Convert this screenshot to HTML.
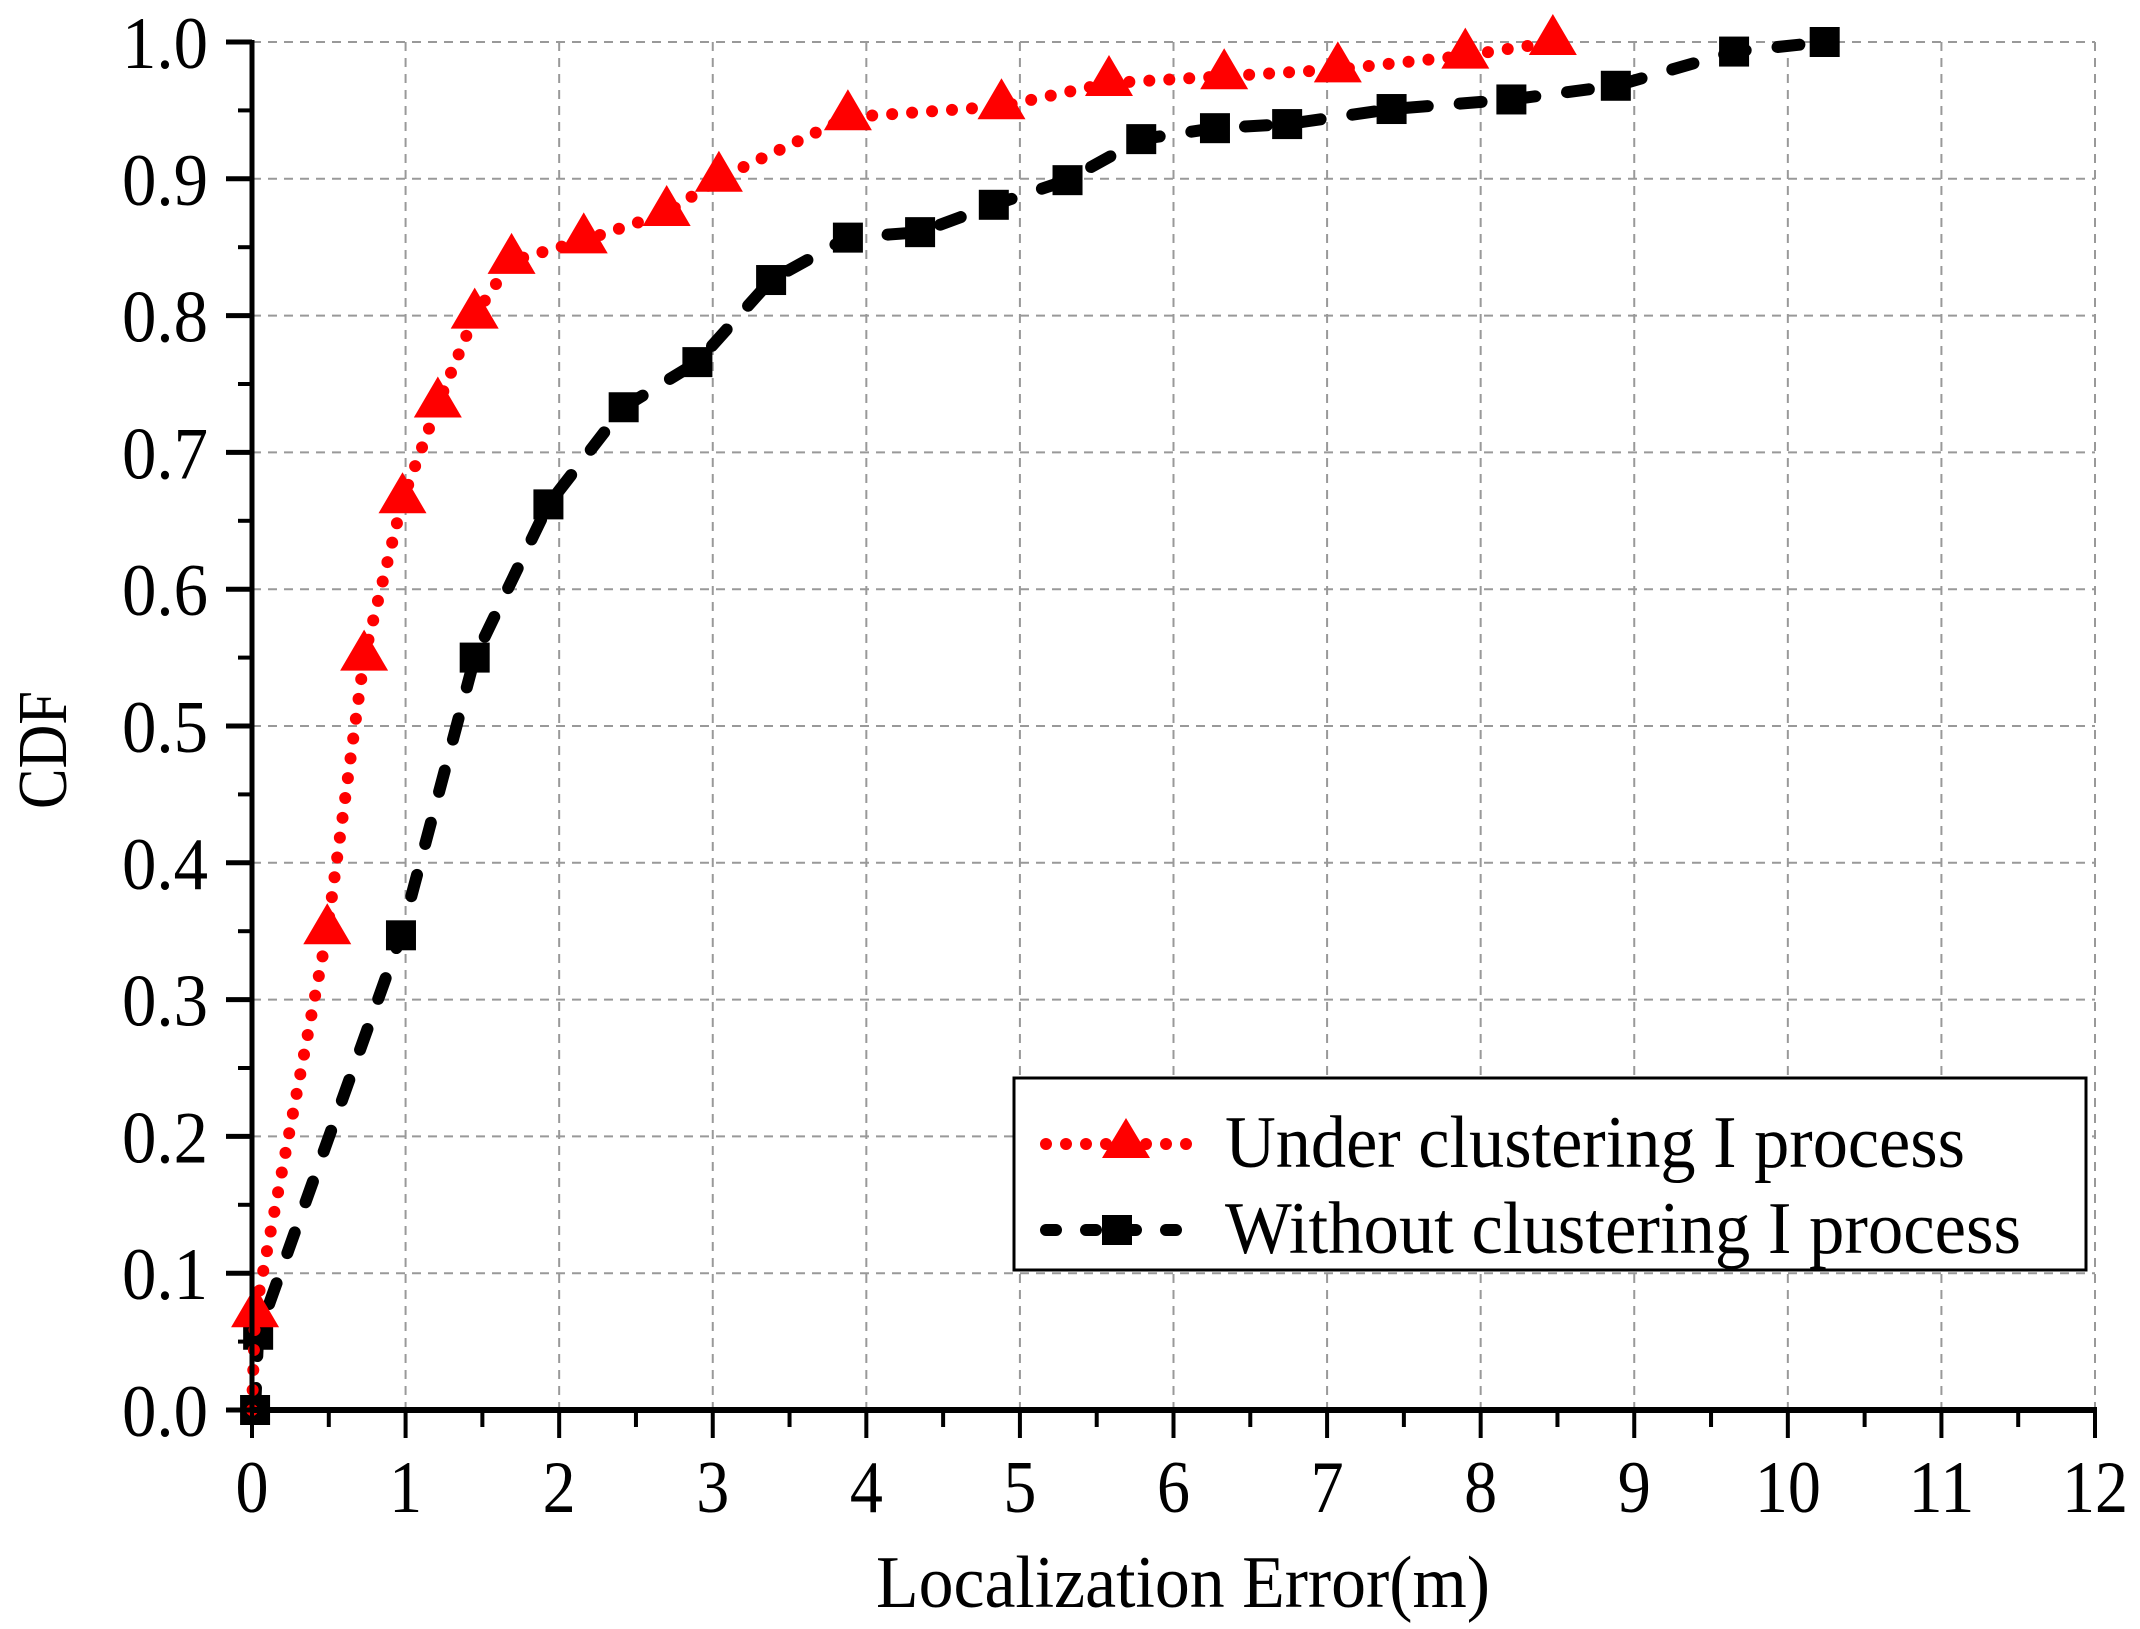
<!DOCTYPE html>
<html><head><meta charset="utf-8"><style>
html,body{margin:0;padding:0;background:#fff;}
svg{display:block;font-family:"Liberation Serif",serif;}
</style></head><body>
<svg id="chart" width="2140" height="1629" viewBox="0 0 2140 1629" xmlns="http://www.w3.org/2000/svg">
<g id="grid"></g>
<g id="series"></g>
<g id="axes"></g>
<text transform="translate(66,750) rotate(-90)" text-anchor="middle" font-size="70" textLength="118" lengthAdjust="spacingAndGlyphs">CDF</text>
<text x="1183" y="1607" text-anchor="middle" font-size="74" textLength="614" lengthAdjust="spacingAndGlyphs">Localization Error(m)</text>
<g>
<rect x="1014" y="1078" width="1072" height="192" fill="#fff" stroke="#000" stroke-width="3"/>
<g>
<line x1="1046" y1="1144" x2="1202" y2="1144" stroke="#ff0000" stroke-width="12" stroke-linecap="round" stroke-dasharray="0 20"/>
<polygon points="1126,1118 1150,1158 1102,1158" fill="#ff0000"/>
<text x="1225" y="1167" font-size="74" textLength="740" lengthAdjust="spacingAndGlyphs">Under clustering I process</text>
</g>
<g>
<line x1="1046" y1="1230" x2="1195" y2="1230" stroke="#000" stroke-width="12" stroke-linecap="round" stroke-dasharray="10 30"/>
<rect x="1102" y="1215" width="30" height="30" fill="#000"/>
<text x="1225" y="1253" font-size="74" textLength="796" lengthAdjust="spacingAndGlyphs">Without clustering I process</text>
</g>
</g>
</svg>
<script>
const xTicks = [0,1,2,3,4,5,6,7,8,9,10,11,12];
const yTicks = [0.0,0.1,0.2,0.3,0.4,0.5,0.6,0.7,0.8,0.9,1.0];
const yTickLabels = ["0.0","0.1","0.2","0.3","0.4","0.5","0.6","0.7","0.8","0.9","1.0"];
const underX = [0.02,0.49,0.73,0.98,1.21,1.45,1.69,2.16,2.70,3.04,3.88,4.88,5.58,6.33,7.07,7.90,8.47];
const underY = [0.07,0.35,0.55,0.665,0.735,0.80,0.84,0.855,0.875,0.90,0.945,0.953,0.97,0.975,0.98,0.99,1.0];
const withoutX = [0.02,0.04,0.97,1.45,1.93,2.42,2.90,3.38,3.88,4.35,4.83,5.31,5.79,6.27,6.74,7.42,8.20,8.88,9.65,10.24];
const withoutY = [0.0,0.055,0.347,0.55,0.662,0.733,0.766,0.826,0.857,0.861,0.881,0.899,0.929,0.937,0.94,0.951,0.958,0.968,0.993,1.0];

const X0=252, X1=2095, Y0=1410, Y1=42;
const sx = v => X0 + (v/12)*(X1-X0);
const sy = v => Y0 - v*(Y0-Y1);
const NS="http://www.w3.org/2000/svg";
function mk(tag, attrs, parent){const e=document.createElementNS(NS,tag);for(const k in attrs)e.setAttribute(k,attrs[k]);parent.appendChild(e);return e;}
const grid=document.getElementById('grid'), axes=document.getElementById('axes'), series=document.getElementById('series');

xTicks.forEach((t,i)=>{
  if(t>0){const l=mk('line',{x1:sx(t),x2:sx(t),y1:Y1,y2:Y0,stroke:'#999','stroke-width':2,'stroke-dasharray':'9 7'},grid);
  
  }
  const tk=mk('line',{x1:sx(t),x2:sx(t),y1:Y0,y2:Y0+28,stroke:'#000','stroke-width':4},axes);
  
  
  if(t<12){const m=mk('line',{x1:sx(t+0.5),x2:sx(t+0.5),y1:Y0,y2:Y0+17,stroke:'#000','stroke-width':4},axes);
  
  }
  const s=String(t);
  const tx=mk('text',{x:sx(t),y:1512,'text-anchor':'middle','font-size':74,textLength:(s.length*33),lengthAdjust:'spacingAndGlyphs'},axes);
  tx.textContent=s;
  
  
});
yTicks.forEach((t,i)=>{
  if(t>0){const l=mk('line',{x1:X0,x2:X1,y1:sy(t),y2:sy(t),stroke:'#999','stroke-width':2,'stroke-dasharray':'9 7'},grid);
  
  }
  const tk=mk('line',{x1:X0-26,x2:X0,y1:sy(t),y2:sy(t),stroke:'#000','stroke-width':5},axes);
  
  
  if(t<1){const m=mk('line',{x1:X0-14,x2:X0,y1:sy(t+0.05),y2:sy(t+0.05),stroke:'#000','stroke-width':4},axes);
  
  }
  const tx=mk('text',{x:208,y:sy(t)+26,'text-anchor':'end','font-size':74,textLength:86,lengthAdjust:'spacingAndGlyphs'},axes);
  tx.textContent=yTickLabels[i];
  
  
});
const ax=mk('line',{x1:X0,x2:X0,y1:Y1-2,y2:Y0+2,stroke:'#000','stroke-width':5},axes);


const bx=mk('line',{x1:X0-2,x2:X1+2,y1:Y0,y2:Y0,stroke:'#000','stroke-width':6},axes);



const bp=withoutX.map((x,i)=>sx(x)+','+sy(withoutY[i])).join(' ');
const bl=mk('polyline',{points:bp,fill:'none',stroke:'#000','stroke-width':12,'stroke-linecap':'round','stroke-dasharray':'22 32'},series);


withoutX.forEach((x,i)=>{
  const r=mk('rect',{x:sx(x)-15,y:sy(withoutY[i])-15,width:30,height:30,fill:'#000'},series);
  
  
});
const rp=[sx(0)+','+sy(0)].concat(underX.map((x,i)=>sx(x)+','+sy(underY[i]))).join(' ');
const rl=mk('polyline',{points:rp,fill:'none',stroke:'#ff0000','stroke-width':12,'stroke-linecap':'round','stroke-dasharray':'0 20'},series);


underX.forEach((x,i)=>{
  const cx=sx(x), cy=sy(underY[i]);
  const p=mk('polygon',{points:`${cx},${cy-28} ${cx+24},${cy+13} ${cx-24},${cy+13}`,fill:'#ff0000'},series);
  
  
});
</script>
</body></html>
